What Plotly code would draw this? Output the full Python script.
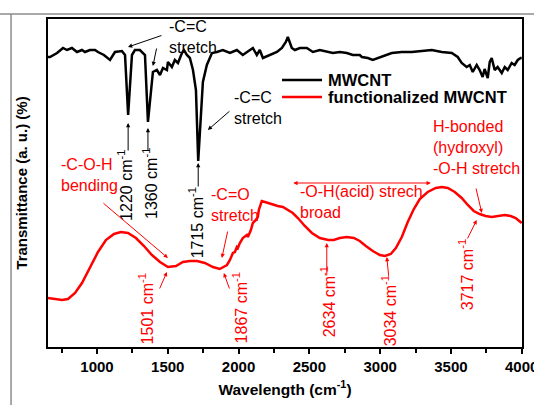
import plotly.graph_objects as go

# ---- data ----
wn_mwcnt = [654, 668, 718, 760, 788, 823, 859, 894, 915, 950, 986, 1007, 1049, 1092, 1127,
            1176, 1198, 1220, 1247, 1268, 1303, 1339, 1360, 1388, 1395, 1423, 1445, 1466,
            1494, 1501, 1529, 1550, 1572, 1600, 1614, 1635, 1656, 1678, 1699, 1715, 1734,
            1748, 1776, 1812, 1847, 1889, 1939, 1988, 2030, 2059, 2101, 2129, 2150, 2172,
            2221, 2271, 2306, 2334, 2348, 2376, 2398, 2433, 2482, 2525, 2574, 2623, 2666,
            2715, 2765, 2807, 2856, 2871, 2913, 2948, 2983, 3033, 3082, 3153, 3223, 3294,
            3365, 3435, 3506, 3548, 3576, 3611, 3633, 3654, 3682, 3703, 3724, 3738, 3760,
            3774, 3788, 3809, 3830, 3859, 3880, 3901, 3929, 3950, 3972, 3993, 4000]
t_mwcnt = [290, 290, 294, 299, 297, 299, 295, 297, 295, 297, 297, 295, 292, 287, 295,
           296, 292, 232, 292, 297, 297, 292, 225, 272, 275, 277, 272, 279,
           277, 285, 280, 287, 284, 294, 297, 292, 289, 277, 257, 186, 227,
           265, 282, 294, 295, 297, 294, 297, 292, 295, 299, 292, 297, 289,
           292, 295, 299, 305, 310, 299, 297, 299, 299, 295, 297, 295, 294,
           295, 294, 292, 292, 290, 289, 287, 289, 292, 294, 295, 295, 296,
           297, 295, 294, 290, 284, 280, 282, 275, 282, 277, 270, 278, 269,
           285, 289, 277, 280, 274, 280, 277, 284, 282, 287, 289, 289]

wn_func = [654, 703, 753, 795, 845, 894, 950, 1007, 1063, 1120, 1169, 1219, 1275, 1332,
           1388, 1445, 1501, 1558, 1607, 1656, 1706, 1762, 1819, 1867, 1918, 1939, 1960,
           1974, 1988, 1995, 2009, 2030, 2059, 2066, 2087, 2101, 2122, 2136, 2143, 2157,
           2164, 2186, 2207, 2242, 2277, 2313, 2348, 2383, 2419, 2468, 2518, 2574, 2634,
           2673, 2715, 2765, 2814, 2856, 2899, 2948, 2998, 3034, 3075, 3111, 3153, 3195,
           3238, 3280, 3336, 3393, 3435, 3478, 3527, 3576, 3619, 3661, 3703, 3745, 3788,
           3830, 3880, 3922, 3957, 4000]
t_func = [49, 48, 47, 48, 54, 64, 80, 95, 107, 113, 115, 114, 109, 101,
          92, 85, 80, 81, 85, 86, 86, 84, 80, 78, 82, 87, 94,
          95, 100, 99, 104, 109, 112, 110, 117, 124, 127, 130, 137, 144,
          146, 145, 144, 142, 141, 140, 137, 134, 129, 121, 114, 109, 107,
          107, 109, 110, 109, 106, 101, 96, 92, 91, 93, 99, 110, 125,
          138, 148, 155, 159, 160, 159, 155, 149, 142, 136, 133, 131, 130,
          131, 132, 131, 129, 124]

series_names = ["MWCNT", "functionalized MWCNT"]
series_colors = ["black", "#ff0000"]
x_ticks = [1000, 1500, 2000, 2500, 3000, 3500, 4000]
x_minor_ticks = [750, 1250, 1750, 2250, 2750, 3250, 3750]

# peak labels: (text, label x, label y, arrow tail x, tail y, head x, head y)
black_peaks = [
    ("1220 cm<sup>-1</sup>", 1197, 162, 1220, 195, 1220, 224),
    ("1360 cm<sup>-1</sup>", 1374, 164, 1360, 195, 1360, 219),
    ("1715 cm<sup>-1</sup>", 1702, 124, 1715, 159, 1715, 184),
]
red_peaks = [
    ("1501 cm<sup>-1</sup>", 1349, 38, 1438, 57, 1494, 75),
    ("1867 cm<sup>-1</sup>", 2013, 39, 1939, 57, 1896, 74),
    ("2634 cm<sup>-1</sup>", 2634, 45, 2623, 70, 2623, 104),
    ("3034 cm<sup>-1</sup>", 3065, 36, 3061, 70, 3047, 90),
    ("3717 cm<sup>-1</sup>", 3608, 72, 3612, 107, 3682, 127),
]
# group labels: (text, left x, center y, tail x, tail y, head x, head y, color)
groups = [
    ("-C=C<br>stretch", 1501, 310, 1466, 312, 1219, 300, "black"),
    ("", None, None, 1423, 300, 1395, 281, "black"),
    ("-C=C<br>stretch", 1960, 239, 1946, 237, 1783, 217, "black"),
    ("-C-O-H<br>bending", 739, 172, 1035, 145, 1501, 89, "red"),
    ("-C=O<br>stretch", 1797, 142, 1925, 117, 1882, 89, "red"),
    ("H-bonded<br>(hydroxyl)<br>-O-H stretch", 3365, 200, 3675, 160, 3718, 134, "red"),
]
acid_text = "-O-H(acid) strech<br>broad"
acid_pos = (2426, 145)
acid_span = (2376, 3358, 164)

FONT = "Liberation Sans, Arial, sans-serif"
RED = "#ff0000"
ANN_SIZE = 16

fig = go.Figure()
for wn, t, name, col in [(wn_mwcnt, t_mwcnt, series_names[0], series_colors[0]),
                         (wn_func, t_func, series_names[1], series_colors[1])]:
    fig.add_trace(go.Scatter(x=wn, y=t, mode="lines", name=name,
                             line=dict(color=col, width=2.5), showlegend=False))

ann = []
shapes = []


def arrow(tx, ty, hx, hy, color, side="end"):
    ann.append(dict(x=hx, y=hy, ax=tx, ay=ty, xref="x", yref="y", axref="x", ayref="y",
                    text="", showarrow=True, arrowhead=2, arrowsize=0.85, arrowwidth=1,
                    arrowcolor=color, arrowside=side, standoff=0, startstandoff=0))


for txt, lx, ly, tx, ty, hx, hy in black_peaks:
    ann.append(dict(x=lx, y=ly, xref="x", yref="y", text=txt, textangle=-90, showarrow=False,
                    font=dict(family=FONT, size=ANN_SIZE, color="black")))
    arrow(tx, ty, hx, hy, "black")
for txt, lx, ly, tx, ty, hx, hy in red_peaks:
    ann.append(dict(x=lx, y=ly, xref="x", yref="y", text=txt, textangle=-90, showarrow=False,
                    font=dict(family=FONT, size=ANN_SIZE, color=RED)))
    arrow(tx, ty, hx, hy, RED)
for txt, lx, ly, tx, ty, hx, hy, col in groups:
    c = RED if col == "red" else "black"
    if txt:
        ann.append(dict(x=lx, y=ly, xref="x", yref="y", text=txt, showarrow=False,
                        xanchor="left", yanchor="middle", align="left", borderpad=0,
                        font=dict(family=FONT, size=ANN_SIZE, color=c)))
    arrow(tx, ty, hx, hy, c)
ann.append(dict(x=acid_pos[0], y=acid_pos[1], xref="x", yref="y", text=acid_text,
                showarrow=False, xanchor="left", yanchor="middle", align="left", borderpad=0,
                font=dict(family=FONT, size=ANN_SIZE, color=RED)))
arrow(acid_span[0], acid_span[2], acid_span[1], acid_span[2], RED, side="end+start")

# legend drawn in paper coordinates (compact row spacing as in the reference)
legend_rows_y = [0.814, 0.762]
for name, col, ly in zip(series_names, series_colors, legend_rows_y):
    shapes.append(dict(type="line", xref="paper", yref="paper", x0=0.4937, x1=0.5781,
                       y0=ly, y1=ly, line=dict(color=col, width=2.5)))
    ann.append(dict(x=0.5886, y=ly, xref="paper", yref="paper", text="<b>%s</b>" % name,
                    showarrow=False, xanchor="left", yanchor="middle", borderpad=0,
                    font=dict(family=FONT, size=16.5, color="black")))

# outer grey frame of the original figure
shapes += [
    dict(type="line", xref="paper", yref="paper", x0=-0.11, x1=1.03, y0=1.0152, y1=1.0152,
         line=dict(color="#8c8c8c", width=1.5)),
    dict(type="line", xref="paper", yref="paper", x0=-0.078, x1=-0.078, y0=1.0152, y1=-0.2,
         line=dict(color="#8c8c8c", width=1.5)),
]

fig.update_layout(
    width=534, height=405,
    margin=dict(l=48, r=12, t=19, b=58),
    paper_bgcolor="white", plot_bgcolor="white",
    font=dict(family=FONT, size=14, color="black"),
    annotations=ann,
    shapes=shapes,
    showlegend=False,
)
fig.update_xaxes(range=[654, 4002], tickvals=x_ticks, ticks="outside", ticklen=5, tickwidth=1.5,
                 tickcolor="black", showline=True, linecolor="black", linewidth=2, mirror=True,
                 showgrid=False, zeroline=False, automargin=False, ticklabeloverflow="allow",
                 tickfont=dict(family=FONT, size=15, color="black", weight="bold"),
                 minor=dict(tickvals=x_minor_ticks, ticks="outside",
                            ticklen=4, tickwidth=1.5, tickcolor="black", showgrid=False),
                 title=dict(text="<b>Wavelength (cm<sup>-1</sup>)</b>",
                            font=dict(family=FONT, size=15.5, color="black")))
fig.update_yaxes(range=[0, 328], showticklabels=False, ticks="", showline=True, linecolor="black",
                 linewidth=2, mirror=True, showgrid=False, zeroline=False, automargin=False,
                 title=dict(text="<b>Transmittance (a. u.) (%)</b>",
                            font=dict(family=FONT, size=15, color="black")))

# nudge the x-axis title up a few pixels, as in the reference
fig.write_html("out.html", config={"displayModeBar": False},
               post_script="document.body.style.margin='0';"
                           "var t=document.querySelector('.g-xtitle text');"
                           "if(t){t.setAttribute('y', parseFloat(t.getAttribute('y'))-5);}")
